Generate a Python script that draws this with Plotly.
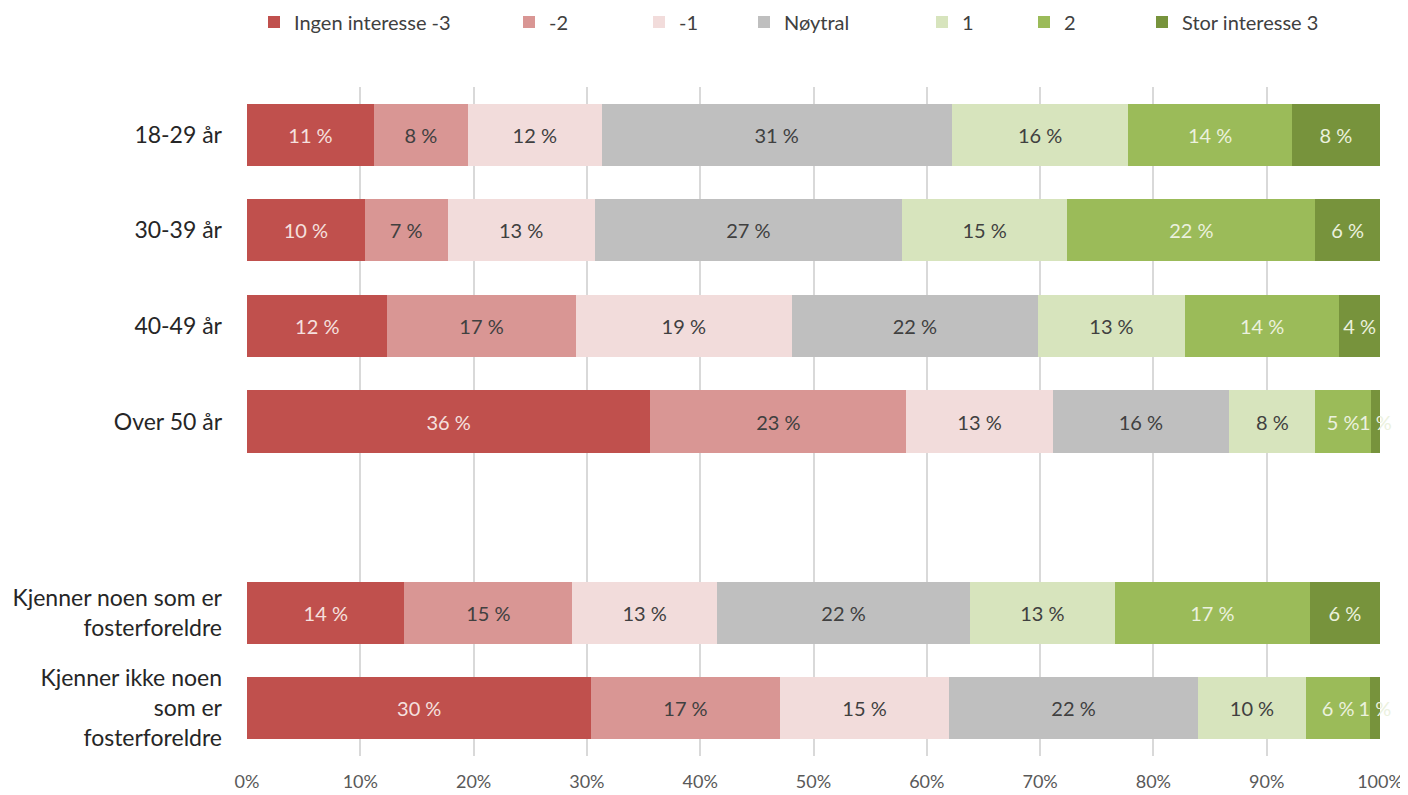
import plotly.graph_objects as go

categories = ["18-29 år", "30-39 år", "40-49 år", "Over 50 år", " ",
              "Kjenner noen som er<br>fosterforeldre",
              "Kjenner ikke noen<br>som er<br>fosterforeldre"]

series_names = ["Ingen interesse -3", "-2", "-1", "Nøytral", "1", "2", "Stor interesse 3"]

ingen_3 = [11.2, 10.4, 12.4, 35.6, None, 13.9, 30.4]
minus_2 = [8.3, 7.3, 16.6, 22.6, None, 14.8, 16.6]
minus_1 = [11.8, 13.0, 19.1, 12.9, None, 12.8, 15.0]
noytral = [30.9, 27.1, 21.7, 15.6, None, 22.3, 21.9]
plus_1 = [15.6, 14.6, 13.0, 7.6, None, 12.8, 9.6]
plus_2 = [14.4, 21.9, 13.6, 4.9, None, 17.2, 5.6]
stor_3 = [7.8, 5.7, 3.6, 0.8, None, 6.2, 0.9]

tick_vals = [0, 10, 20, 30, 40, 50, 60, 70, 80, 90, 100]
tick_text = ["0%", "10%", "20%", "30%", "40%", "50%", "60%", "70%", "80%", "90%", "100%"]

series_values = [ingen_3, minus_2, minus_1, noytral, plus_1, plus_2, stor_3]
colors = ["#C0504D", "#D99694", "#F2DCDB", "#BFBFBF", "#D7E4BD", "#9BBB59", "#77933C"]
text_colors = ["#F5E0DF", "#404040", "#404040", "#404040", "#404040", "#EBF1DE", "#EBF1DE"]
legend_marker_px = [272, 527, 657, 762, 940, 1042, 1160]

FONT = "Lato, 'Open Sans', sans-serif"
W, H = 1408, 795
OFF = 8  # page body margin
L, R = 247 - OFF, 1408 - 1380 + OFF
T = 87 - OFF
B = (H + OFF) - 756
pw = W - L - R
ph = H - T - B

fig = go.Figure()
for i, (name, vals) in enumerate(zip(series_names, series_values)):
    lg = "legend" if i == 0 else f"legend{i+1}"
    fig.add_trace(go.Bar(
        y=categories, x=vals, name=name, orientation="h",
        marker=dict(color=colors[i], line=dict(width=0)),
        texttemplate="%{x:.0f} %", textposition="inside", textangle=0,
        insidetextanchor="middle", constraintext="none",
        textfont=dict(family=FONT, size=20, color=text_colors[i]),
        cliponaxis=False, legend=lg,
        hovertemplate=name + ": %{x:.1f} %<extra></extra>",
    ))

layout_legends = {}
for i in range(7):
    key = "legend" if i == 0 else f"legend{i+1}"
    layout_legends[key] = dict(
        x=(legend_marker_px[i] - 26 - L) / pw, xanchor="left",
        y=1 + (T - (22 - OFF)) / ph, yanchor="middle",
        orientation="h", bgcolor="rgba(0,0,0,0)",
        font=dict(family=FONT, size=20, color="#404040"),
        itemwidth=30, tracegroupgap=0,
    )

fig.update_layout(
    width=W, height=H,
    barmode="stack", bargap=0.35,
    plot_bgcolor="white", paper_bgcolor="white",
    margin=dict(l=L, r=R, t=T, b=B, autoexpand=False),
    showlegend=True,
    font=dict(family=FONT),
    xaxis=dict(
        range=[0, 100], tickmode="array", tickvals=tick_vals, ticktext=tick_text,
        showgrid=True, gridcolor="#D9D9D9", gridwidth=1.5,
        zeroline=False, showline=False, automargin=False,
        tickfont=dict(family=FONT, size=18, color="#595959"),
        ticks="", ticklabelstandoff=13,
    ),
    yaxis=dict(
        categoryorder="array", categoryarray=categories,
        autorange="reversed", showgrid=False, zeroline=False, automargin=False,
        tickfont=dict(family=FONT, size=23, color="#262626"),
        ticks="", ticklabelstandoff=24,
    ),
    **layout_legends,
)

fig.write_html("out.html")
